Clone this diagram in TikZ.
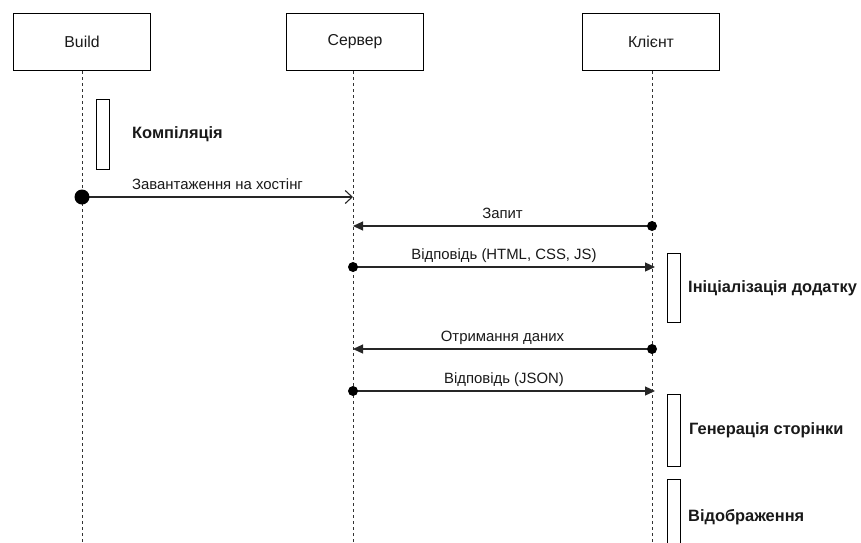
\documentclass[tikz,border=0pt]{standalone}
\usepackage{fontspec}
\setmainfont{Liberation Sans}
\usetikzlibrary{arrows.meta}
\begin{document}
\begin{tikzpicture}[x=1pt,y=-1pt,
  head/.style={draw, line width=1pt, minimum width=137pt, minimum height=57pt,
    inner sep=0pt, font=\fontsize{15.8}{18}\selectfont, text=black!90},
  life/.style={draw=black!80, line width=0.9pt, dash pattern=on 3pt off 3pt},
  act/.style={draw, line width=1pt, fill=white, minimum width=13pt, inner sep=0pt},
  msg/.style={draw=black!85, line width=1.2pt},
  mlabel/.style={font=\fontsize{14.9}{17}\selectfont, text=black!90, inner sep=0pt, anchor=base},
  note/.style={font=\bfseries\fontsize{16.4}{19}\selectfont, text=black!90, anchor=west, inner sep=0pt},
  dot/.style={fill=black}
]
\useasboundingbox (0,0) rectangle (861,542);

% participants
\node[head] (build)  at (82,42)  {Build};
\node[head] (server) at (355,42) {Сервер};
\node[head] (client) at (651,42) {Клієнт};

% lifeline ends
\coordinate (buildEnd)  at (82,542);
\coordinate (serverEnd) at (353,542);
\coordinate (clientEnd) at (652,542);
\draw[life] (build.south -| buildEnd) -- (buildEnd);
\draw[life] (server.south -| serverEnd) -- (serverEnd);
\draw[life] (client.south -| clientEnd) -- (clientEnd);

% activations
\node[act, minimum height=70pt] (compile) at (103,134) {};
\node[note] (compileLbl) at (132,134) {Компіляція};

\node[act, minimum height=69pt] (init) at (673.5,288) {};
\node[note] (initLbl) at (688,288) {Ініціалізація додатку};

\node[act, minimum height=72pt] (gen) at (673.5,430) {};
\node[note] (genLbl) at (689,430) {Генерація сторінки};

\node[act, minimum height=80pt] (render) at (673.5,519) {};
\node[note] (renderLbl) at (688,517) {Відображення};

% message endpoints
\coordinate (m1a) at (82,197);  \coordinate (m1b) at (353,197);
\coordinate (m2a) at (652,226); \coordinate (m2b) at (353,226);
\coordinate (m3a) at (353,267); \coordinate (m3b) at (655,267);
\coordinate (m4a) at (652,349); \coordinate (m4b) at (353,349);
\coordinate (m5a) at (353,391); \coordinate (m5b) at (655,391);

% deployment
\draw[msg, -{Straight Barb[length=7pt,width=13pt,line width=1.1pt]}] (m1a) -- (m1b)
  node[mlabel, midway, yshift=8pt] {Завантаження на хостінг};
\fill[dot] (m1a) circle (7.5pt);

% request / responses
\draw[msg, -{Triangle[length=10pt,width=9pt]}] (m2a) -- (m2b)
  node[mlabel, midway, yshift=7.5pt] {Запит};
\fill[dot] (m2a) circle (5pt);

\draw[msg, -{Triangle[length=10pt,width=9pt]}] (m3a) -- (m3b)
  node[mlabel, midway, yshift=7.5pt] {Відповідь (HTML, CSS, JS)};
\fill[dot] (m3a) circle (5pt);

\draw[msg, -{Triangle[length=10pt,width=9pt]}] (m4a) -- (m4b)
  node[mlabel, midway, yshift=7.5pt] {Отримання даних};
\fill[dot] (m4a) circle (5pt);

\draw[msg, -{Triangle[length=10pt,width=9pt]}] (m5a) -- (m5b)
  node[mlabel, midway, yshift=7.5pt] {Відповідь (JSON)};
\fill[dot] (m5a) circle (5pt);
\end{tikzpicture}
\end{document}
